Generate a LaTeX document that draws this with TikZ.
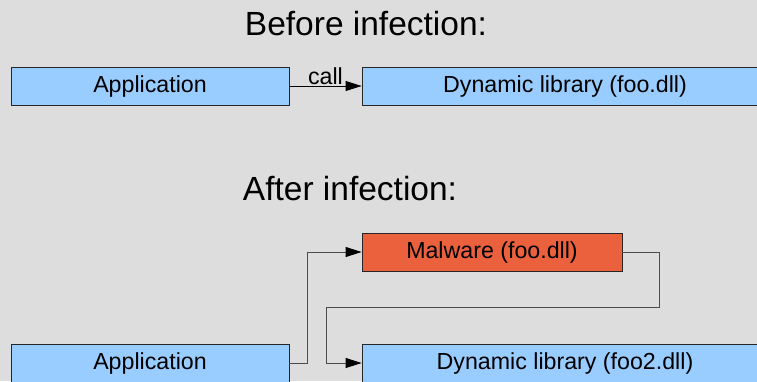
\documentclass[tikz,border=0pt]{standalone}
\usepackage{fontspec}
\setmainfont{Liberation Sans}
\usepackage{xcolor}
\usepackage{tikz}
\usetikzlibrary{arrows.meta,positioning}

\definecolor{boxblue}{RGB}{153,204,255}
\definecolor{boxred}{RGB}{235,97,61}
\definecolor{backgray}{RGB}{221,221,221}

\begin{document}
\begin{tikzpicture}[
      x=1pt,y=1pt,
      box_blue/.style={
         rectangle,
         draw=black!85,
         fill=boxblue,
         line width=0.8pt,
         inner sep=0pt,
         minimum height=38pt,
         font=\fontsize{23.2}{28}\selectfont},
      box_red/.style={
         box_blue,
         fill=boxred},
      title_text/.style={
         anchor=base,
         inner sep=0pt,
         font=\fontsize{33.5}{40}\selectfont},
      arrow_black/.style={
         -{Triangle[length=16pt,width=10pt]},
         line width=0.8pt,
         draw=black},
      arrow_gray/.style={
         -{Triangle[length=16pt,width=10pt,color=black]},
         line width=0.9pt,
         draw=black!70}
]
      \useasboundingbox[fill=backgray] (0,0) rectangle (757,-381);

      %before
      \node[title_text] (before) at (366,-35) {Before infection:};
      \node[box_blue,minimum width=278pt] (app) at (150,-86) {Application};
      \node[box_blue,minimum width=406pt] (dll) at (565,-86) {Dynamic library (foo.dll)};

      \draw[arrow_black] (app) -- node[above,inner sep=1pt,font=\fontsize{23.2}{28}\selectfont] {call} (dll);

      %after
      \node[title_text] (after) at (350,-200) {After infection:};
      \node[box_red,minimum width=260pt] (mal) at (492,-252) {Malware (foo.dll)};
      \node[box_blue,minimum width=278pt] (app2) at (150,-363) {Application};
      \node[box_blue,minimum width=406pt] (dll2) at (565,-363) {Dynamic library (foo2.dll)};

      \coordinate (bend) at (326,-307);

      \draw[arrow_gray] (app2.east) -- ++(18,0) |- (mal.west);
      \draw[arrow_gray] (mal.east) -- ++(37,0) |- (bend) |- (dll2.west);

\end{tikzpicture}
\end{document}
